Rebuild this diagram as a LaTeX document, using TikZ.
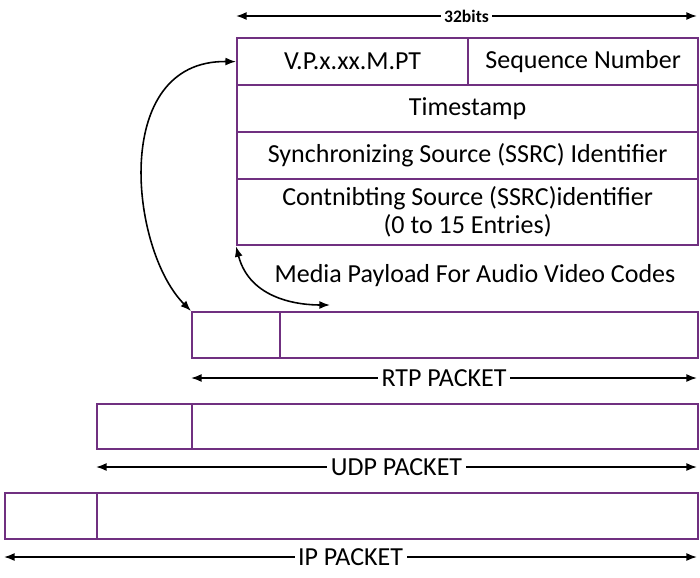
\documentclass[tikz,border=0pt]{standalone}
\usepackage{fontspec}
\setmainfont{Carlito}
\usetikzlibrary{arrows.meta}
\definecolor{frame}{RGB}{112,48,128}
\tikzset{
	cell/.style={draw=frame,line width=1.3pt,minimum height=#1,inner sep=0pt,anchor=north west},
	span/.style={{Latex[length=6pt]}-{Latex[length=6pt]},line width=0.9pt},
	lbl/.style={fill=white,inner sep=2pt,font=\fontsize{14.8}{17}\selectfont}
}
\begin{document}
\begin{tikzpicture}[x=0.02cm,y=-0.02cm]
		\useasboundingbox (0,0) rectangle (700,578);
		% header
		\coordinate (hl) at (236,16);
		\coordinate (hr) at (697,16);
		\draw[span] (hl) -- (hr) node[midway,lbl,font=\bfseries\fontsize{10}{12}\selectfont] (bits) {32bits};
		
		\node[cell=47*0.02cm,minimum width=231*0.02cm] (vp) at (236,37) {};
		\node[cell=47*0.02cm,minimum width=230*0.02cm] (seq) at (467,37) {};
		\node[cell=47*0.02cm,minimum width=461*0.02cm] (ts) at (236,84) {};
		\node[cell=47*0.02cm,minimum width=461*0.02cm] (ssrc) at (236,131) {};
		\node[cell=66*0.02cm,minimum width=461*0.02cm] (csrc) at (236,178) {};
		\node[lbl,fill=none] at (vp.center) {V.P.x.xx.M.PT};
		\node[lbl,fill=none] at (seq.center) {Sequence Number};
		\node[lbl,fill=none] at (ts.center) {Timestamp};
		\node[lbl,fill=none] at (ssrc.center) {Synchronizing Source (SSRC) Identifier};
		\node[lbl,fill=none,align=center,font=\fontsize{14.8}{16}\selectfont] at (csrc.center) {Contnibting Source (SSRC)identifier\\(0 to 15 Entries)};
		
		\node[lbl,fill=none] (media) at (475,276) {Media Payload For Audio Video Codes};
		
		% packets
		\node[cell=46*0.02cm,minimum width=88*0.02cm] (rtph) at (191,311) {};
		\node[cell=46*0.02cm,minimum width=418*0.02cm] (rtpb) at (279,311) {};
		\node[cell=45*0.02cm,minimum width=95*0.02cm] (udph) at (96,403) {};
		\node[cell=45*0.02cm,minimum width=506*0.02cm] (udpb) at (191,403) {};
		\node[cell=46*0.02cm,minimum width=92*0.02cm] (iph) at (4,492) {};
		\node[cell=46*0.02cm,minimum width=601*0.02cm] (ipb) at (96,492) {};
		
		\draw[span] (191,378) -- (697,378) node[pos=0.5,lbl] {RTP PACKET};
		\draw[span] (96,467) -- (697,467) node[pos=0.5,lbl] {UDP PACKET};
		\draw[span] (4,557) -- (697,557) node[pos=0.5,lbl] {IP PACKET};
		
		% links
		\draw[span] (vp.west) .. controls (110,60) and (130,250) .. (rtph.north west);
		\draw[span] (csrc.south west) .. controls (250,300) and (300,305) .. (330,305);
\end{tikzpicture}
\end{document}
